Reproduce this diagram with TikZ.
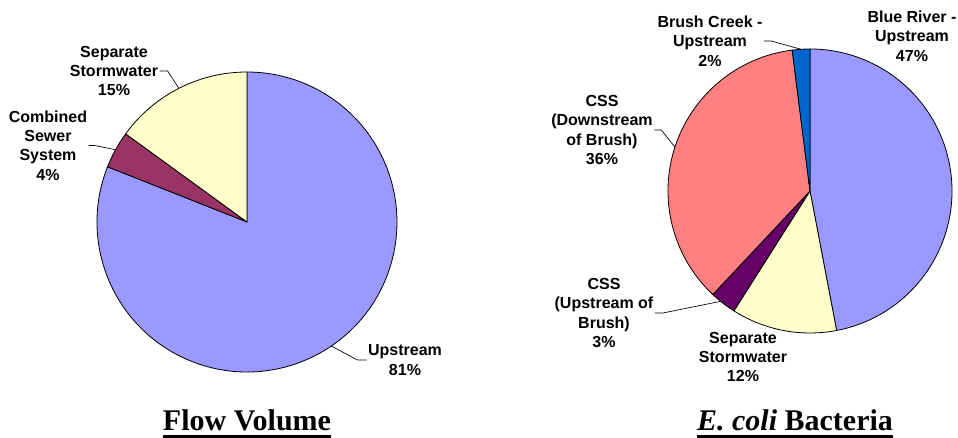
\documentclass[tikz,border=0pt]{standalone}
\usepackage{fontspec}
\setmainfont{Liberation Serif}
\newfontfamily\labfont{Liberation Sans}
\definecolor{periwinkle}{HTML}{9999FF}
\definecolor{plum}{HTML}{993366}
\definecolor{paleyellow}{HTML}{FFFFCC}
\definecolor{salmon}{HTML}{FF8080}
\definecolor{ocean}{HTML}{0066CC}
\definecolor{grape}{HTML}{660066}
\newcommand{\ulbox}[1]{\setbox0\hbox{#1}\rlap{\copy0}\rule[-5pt]{\wd0}{2.1pt}}
\begin{document}
\begin{tikzpicture}[x=0.75pt, y=0.75pt,
    every node/.style={inner sep=1pt, align=center, font=\labfont\bfseries\fontsize{12}{14.6}\selectfont},
    slice/.style={draw=black, line width=0.6pt, line join=round},
    lead/.style={draw=black, line width=0.5pt},
    title/.style={anchor=base, font=\rmfamily\bfseries\fontsize{22.5}{26}\selectfont}]
    \useasboundingbox (0,0) rectangle (958,438);

    \coordinate (L) at (247,216);
    \coordinate (R) at (810,247);
    \def\rl{150}
    \def\rr{142}

    \draw[slice, fill=periwinkle] (L) -- ++(158.4:\rl) arc[start angle=158.4, end angle=450, radius=\rl] -- cycle;
    \draw[slice, fill=plum] (L) -- ++(144:\rl) arc[start angle=144, end angle=158.4, radius=\rl] -- cycle;
    \draw[slice, fill=paleyellow] (L) -- ++(90:\rl) arc[start angle=90, end angle=144, radius=\rl] -- cycle;

    \draw[slice, fill=periwinkle] (R) -- ++(-79.2:\rr) arc[start angle=-79.2, end angle=90, radius=\rr] -- cycle;
    \draw[slice, fill=paleyellow] (R) -- ++(-122.4:\rr) arc[start angle=-122.4, end angle=-79.2, radius=\rr] -- cycle;
    \draw[slice, fill=grape] (R) -- ++(-133.2:\rr) arc[start angle=-133.2, end angle=-122.4, radius=\rr] -- cycle;
    \draw[slice, fill=salmon] (R) -- ++(97.2:\rr) arc[start angle=97.2, end angle=226.8, radius=\rr] -- cycle;
    \draw[slice, fill=ocean] (R) -- ++(90:\rr) arc[start angle=90, end angle=97.2, radius=\rr] -- cycle;

    \path (L) ++(117:\rl) coordinate (a);
    \path (L) ++(151.2:\rl) coordinate (b);
    \path (L) ++(304.2:\rl) coordinate (c);
    \path (R) ++(93.6:\rr) coordinate (e);
    \path (R) ++(162:\rr) coordinate (f);
    \path (R) ++(231:\rr) coordinate (g);

    \node (A) at (114,367) {Separate\\Stormwater\\15\%};
    \node (B) at (48,292.5) {Combined\\Sewer\\System\\4\%};
    \node (C) at (405,78) {Upstream\\81\%};
    \node (D) at (912,402) {Blue River -\\Upstream\\47\%};
    \node (E) at (710,397) {Brush Creek -\\Upstream\\2\%};
    \node (F) at (602,308) {CSS\\(Downstream\\of Brush)\\36\%};
    \node (G) at (604,125) {CSS\\(Upstream of\\Brush)\\3\%};
    \node (H) at (743,81) {Separate\\Stormwater\\12\%};

    \draw[lead] (A.east) -- ++(8,0) -- (a);
    \draw[lead] (B.east) -- ++(6,0) -- (b);
    \draw[lead] (C.west) -- ++(-9,0) -- (c);
    \draw[lead] (E.east) -- ++(7,0) -- (e);
    \draw[lead] (F.east) -- ++(7,0) -- (f);
    \draw[lead] (G.east) -- ++(8,0) -- (g);

    \node[title] (T) at (247,7) {\ulbox{Flow Volume}};
    \node[title] (U) at (795,7) {\ulbox{\textit{E. coli} Bacteria}};
\end{tikzpicture}
\end{document}
